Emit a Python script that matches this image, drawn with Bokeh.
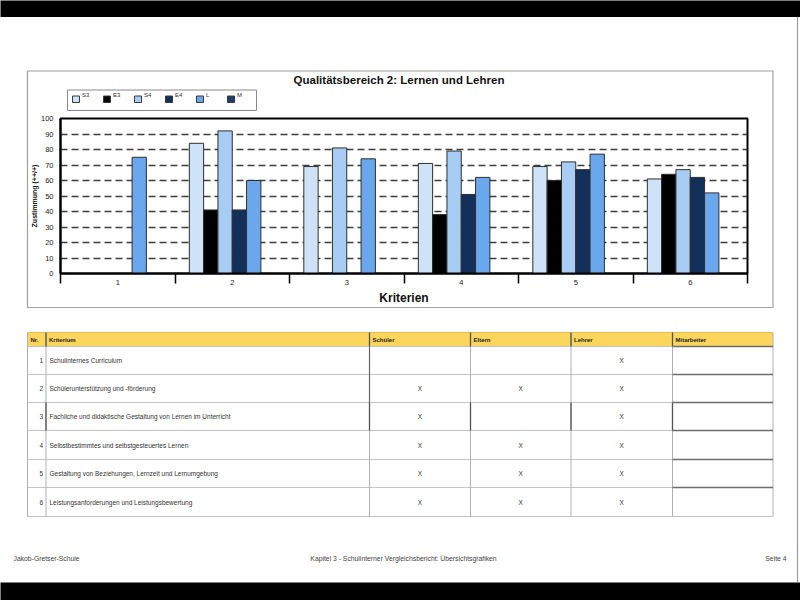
import math
from bokeh.plotting import figure
from bokeh.models import ColumnDataSource, Range1d, FixedTicker
from bokeh.transform import dodge
from bokeh.core.properties import value
from bokeh.embed import file_html
from bokeh.resources import INLINE

nan = float("nan")

# ---------------- data ----------------
chart_title = "Qualitätsbereich 2: Lernen und Lehren"
categories = [1, 2, 3, 4, 5, 6]
category_labels = ["1", "2", "3", "4", "5", "6"]
series_names = ["S3", "E3", "S4", "E4", "L", "M"]
S3 = [nan, 84, 69, 71, 69, 61]
E3 = [nan, 41, nan, 38, 60, 64]
S4 = [nan, 92, 81, 79, 72, 67]
E4 = [nan, 41, nan, 51, 67, 62]
L = [75, 60, 74, 62, 77, 52]
M = [nan, nan, nan, nan, nan, nan]
y_ticks = [0, 10, 20, 30, 40, 50, 60, 70, 80, 90, 100]
x_axis_title = "Kriterien"
y_axis_title = "Zustimmung (++/+)"

table_header = ["Nr.", "Kriterium", "Schüler", "Eltern", "Lehrer", "Mitarbeiter"]
row_nr = ["1", "2", "3", "4", "5", "6"]
row_kriterium = [
    "Schulinternes Curriculum",
    "Schülerunterstützung und -förderung",
    "Fachliche und didaktische Gestaltung von Lernen im Unterricht",
    "Selbstbestimmtes und selbstgesteuertes Lernen",
    "Gestaltung von Beziehungen, Lernzeit und Lernumgebung",
    "Leistungsanforderungen und Leistungsbewertung",
]
col_schueler = ["", "X", "X", "X", "X", "X"]
col_eltern = ["", "X", "", "X", "X", "X"]
col_lehrer = ["X", "X", "X", "X", "X", "X"]
col_mitarbeiter = ["", "", "", "", "", ""]

footer_left = "Jakob-Gretser-Schule"
footer_center = "Kapitel 3 - Schulinterner Vergleichsbericht: Übersichtsgrafiken"
footer_right = "Seite 4"

# ---------------- style ----------------
FONT_NAME = "Liberation Sans"
FONT = value(FONT_NAME)
series_colors = ["#cfe3f8", "#000000", "#a8cdf4", "#12305a", "#6ba7ec", "#1f3f70"]
BAR_W = 0.125
offsets = [(-2.5 + i) * BAR_W for i in range(6)]

# page geometry (reference pixel coordinates)
OFF = 0
FR_L, FR_R, FR_T, FR_B = 60, 747, 118, 273
W, H = 800, 600

p = figure(width=W, height=H, x_range=Range1d(0.5, 6.5), y_range=Range1d(0, 100),
           output_backend="svg", toolbar_location=None,
           min_border_left=FR_L - OFF, min_border_right=(OFF + W) - FR_R,
           min_border_top=FR_T - OFF, min_border_bottom=(OFF + H) - FR_B)
p.title.text = ""
p.background_fill_color = "white"
p.border_fill_color = "white"
p.outline_line_color = "black"
p.outline_line_width = 2
p.extra_x_ranges = {"page": Range1d(FR_L, FR_R)}
p.extra_y_ranges = {"page": Range1d(FR_B, FR_T)}

PG = dict(x_range_name="page", y_range_name="page")


def pquad(l, r, t, b, level="overlay", **kw):
    p.quad(left=l, right=r, top=t, bottom=b, level=level, **PG, **kw)


def pseg(x0, y0, x1, y1, level="overlay", **kw):
    p.segment(x0=x0, y0=y0, x1=x1, y1=y1, level=level, **PG, **kw)


def ptext(x, y, t, size, align="left", bold=False, color="#222222", angle=0, level="overlay"):
    p.text(x=x, y=y, text=t, text_font=FONT, text_font_size=size,
           text_font_style="bold" if bold else "normal", text_align=align,
           text_baseline="middle", text_color=color, angle=angle, level=level, **PG)


# page background: black bands
pquad([0, 0], [800, 800], [0, 582], [16.5, 600], fill_color="black", line_color=None)
# page right edge
pseg([797], [16.5], [797], [582], line_color="#9a9a9a", line_width=1.2)
# chart outer box
pquad([27], [772.5], [70.5], [307], fill_color=None, line_color="#a0a0a0", line_width=1.2)

# ---------------- bars ----------------
src = ColumnDataSource(dict(cat=categories, S3=S3, E3=E3, S4=S4, E4=E4, L=L, M=M))
for name, col, off in zip(series_names, series_colors, offsets):
    p.vbar(x=dodge("cat", off, range=p.x_range), top=name, bottom=0, width=BAR_W,
           source=src, fill_color=col, line_color="#2e2e2e", line_width=1)

# grid
p.xgrid.visible = False
p.ygrid.ticker = FixedTicker(ticks=y_ticks[1:-1])
p.ygrid.grid_line_color = "#3c3c3c"
p.ygrid.grid_line_dash = "7 4"
p.ygrid.grid_line_width = 1.3

# axes
xa = p.xaxis[0]
xa.ticker = FixedTicker(ticks=categories,
                        minor_ticks=[c - 0.5 for c in categories] + [categories[-1] + 0.5])
xa.major_label_overrides = {c: lab for c, lab in zip(categories, category_labels)}
xa.major_tick_out = 0
xa.major_tick_in = 0
xa.minor_tick_out = 10
xa.minor_tick_in = 0
xa.minor_tick_line_color = "black"
xa.minor_tick_line_width = 1.5
xa.axis_line_color = "black"
xa.axis_line_width = 2
xa.major_label_standoff = -4
xa.major_label_text_font = FONT_NAME
xa.major_label_text_font_size = "7.5px"
xa.major_label_text_color = "#222222"
xa.axis_label = x_axis_title
xa.axis_label_text_font = FONT_NAME
xa.axis_label_text_font_size = "12px"
xa.axis_label_text_font_style = "bold"
xa.axis_label_text_color = "#111111"
xa.axis_label_standoff = 3

ya = p.yaxis[0]
ya.ticker = FixedTicker(ticks=y_ticks)
ya.major_tick_out = 0
ya.major_tick_in = 0
ya.minor_tick_line_color = None
ya.axis_line_color = "black"
ya.axis_line_width = 2
ya.major_label_standoff = 7
ya.major_label_text_font = FONT_NAME
ya.major_label_text_font_size = "7.5px"
ya.major_label_text_color = "#222222"
ya.axis_label = y_axis_title
ya.axis_label_text_font = FONT_NAME
ya.axis_label_text_font_size = "7px"
ya.axis_label_text_font_style = "bold"
ya.axis_label_text_color = "#111111"
ya.axis_label_standoff = 0

# title
ptext([398.5], [79], [chart_title], "11.5px", align="center", bold=True, color="#111111")

# legend
pquad([67], [256], [89.5], [110], fill_color="white", line_color="#8a8a8a", line_width=1)
LEG_X0, LEG_STEP = 72, 31
sw_l = [LEG_X0 + i * LEG_STEP for i in range(len(series_names))]
pquad(sw_l, [x + 7 for x in sw_l], [95.5] * 6, [102] * 6,
      fill_color=series_colors, line_color="#3a3a3a", line_width=1)
ptext([x + 9.5 for x in sw_l], [94.5] * 6, series_names, "6px", color="#333333")

# ---------------- table ----------------
col_x = [27, 45.5, 369, 470, 570.5, 672, 772.5]
head_t, head_b = 332, 346
row_y = [346, 374, 402, 430, 459, 487, 516]
pquad([col_x[0]], [col_x[-1]], [head_t], [head_b], fill_color="#fcd65c", line_color=None)
# horizontal lines
pseg([col_x[0]] * 7, row_y, [col_x[-1]] * 7, row_y, line_color="#c4c4c4", line_width=1)
pseg([col_x[0]], [head_t], [col_x[-1]], [head_t], line_color="#e0c050", line_width=1)
# vertical lines
pseg(col_x, [head_t] * 7, col_x, [row_y[-1]] * 7, line_color="#b0b0b0", line_width=1)
# darker header dividers
pseg(col_x[1:-1], [head_t] * 5, col_x[1:-1], [head_b] * 5, line_color="#555555", line_width=1.3)
# darker parts
pseg([col_x[2]], [row_y[0]], [col_x[2]], [row_y[2]], line_color="#666666", line_width=1.2)
pseg(col_x[1:-1], [row_y[2]] * 5, col_x[1:-1], [row_y[3]] * 5, line_color="#555555", line_width=1.3)
pseg([col_x[5]] * 6, row_y[:-1], [col_x[6]] * 6, row_y[:-1], line_color="#6e6e6e", line_width=1.4)

# header text
ptext([x + 3 for x in col_x[:-1]], [339] * 6, table_header, "6px", bold=True, color="#222222")
row_c = [(a + b) / 2 for a, b in zip(row_y[:-1], row_y[1:])]
ptext([42.5] * 6, row_c, row_nr, "6.5px", align="right", color="#333333")
ptext([49] * 6, row_c, row_kriterium, "6.5px", color="#333333")
for ci, colvals in zip(range(2, 6), [col_schueler, col_eltern, col_lehrer, col_mitarbeiter]):
    cx = (col_x[ci] + col_x[ci + 1]) / 2
    ptext([cx] * 6, row_c, colvals, "6.5px", align="center", color="#333333")

# footer
ptext([13], [558], [footer_left], "6.8px", color="#444444")
ptext([403], [558], [footer_center], "6.8px", align="center", color="#444444")
ptext([786], [558], [footer_right], "6.8px", align="right", color="#444444")

open("out.html", "w").write(file_html(p, INLINE))
